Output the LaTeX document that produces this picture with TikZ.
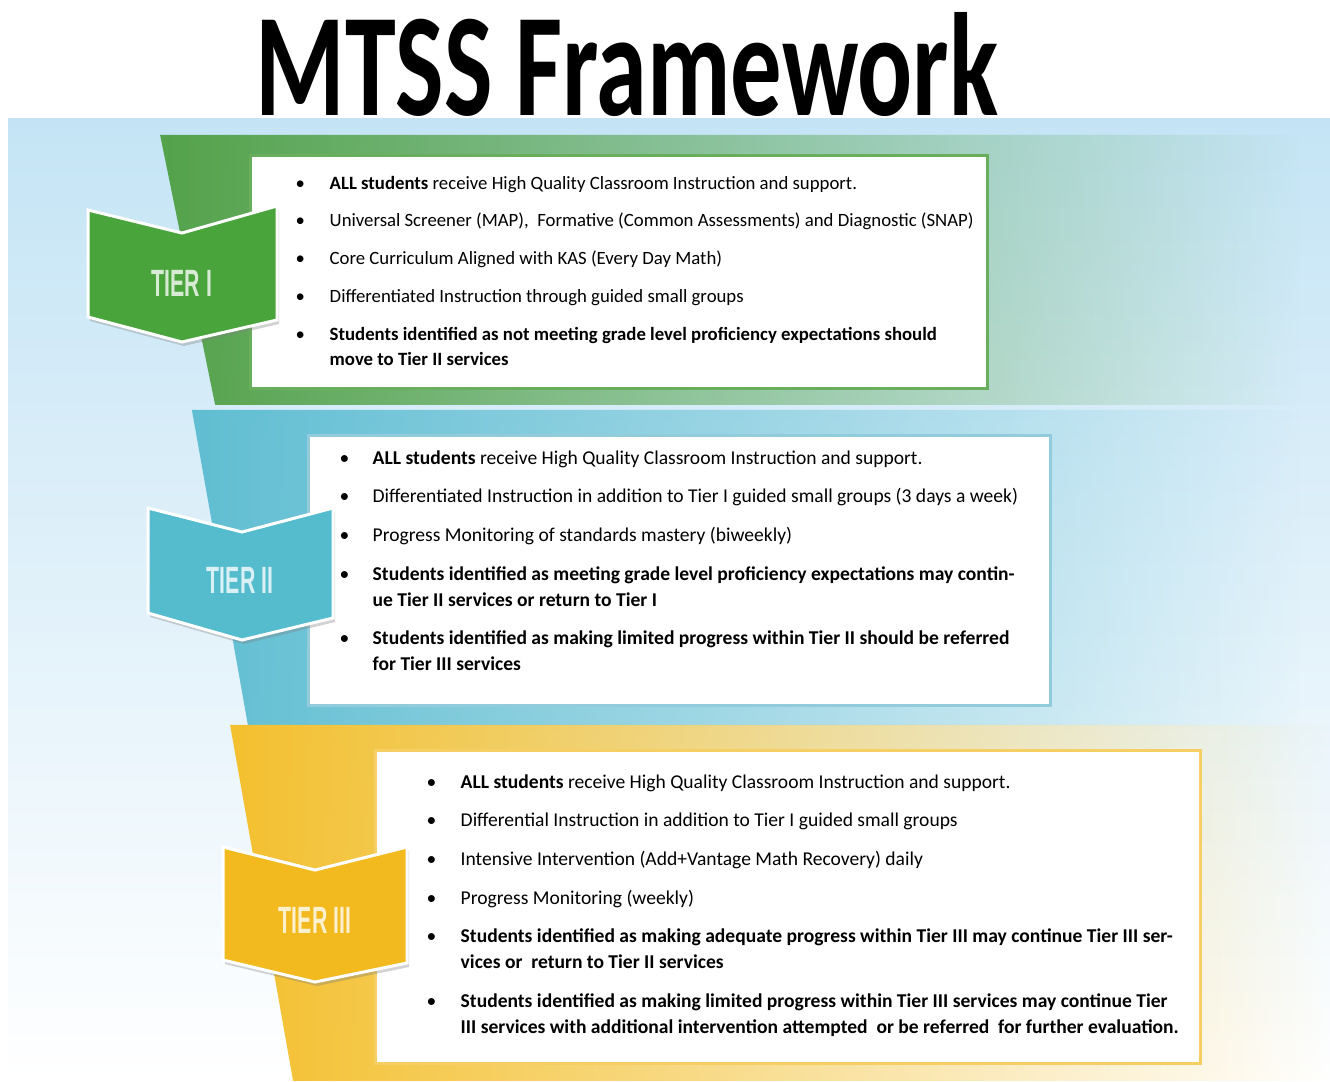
\documentclass[tikz,border=0pt]{standalone}
\usepackage{fontspec}
\setmainfont{Carlito}
\newfontfamily\tierfont{Liberation Sans}
\usetikzlibrary{positioning,shadows,fadings}

\definecolor{bgblue}{RGB}{196,228,245}
\definecolor{bandgreen}{RGB}{84,162,74}
\definecolor{chevgreen}{RGB}{74,164,60}
\definecolor{linegreen}{RGB}{104,174,92}
\definecolor{bandblue}{RGB}{96,190,210}
\definecolor{chevblue}{RGB}{84,188,204}
\definecolor{lineblue}{RGB}{146,204,220}
\definecolor{bandyellow}{RGB}{244,192,46}
\definecolor{chevyellow}{RGB}{242,186,30}
\definecolor{lineyellow}{RGB}{245,206,100}

\tikzfading[name=fade out east, left color=transparent!0, middle color=transparent!5, right color=transparent!100]

\newcommand{\nextitem}{\\[0.127cm]}

\tikzset{
  band/.style={path fading=fade out east},
  tierbox/.style={fill=white, line width=0.03cm},
  chevron/.style={draw=white, line width=0.03cm,
    drop shadow={shadow xshift=0.02cm, shadow yshift=-0.04cm, opacity=0.35}},
  tierlabel/.style={inner sep=0pt, font=\tierfont\bfseries\fontsize{0.38cm}{0.4cm}\selectfont},
  bullets/.style={anchor=base west, inner sep=0pt, align=left,
    font=\fontsize{0.1875cm}{0.252cm}\selectfont},
  wide bullets/.style={bullets, font=\fontsize{0.1955cm}{0.26cm}\selectfont},
}

\begin{document}
\begin{tikzpicture}[x=0.01cm, y=-0.01cm]
  \useasboundingbox (0,0) rectangle (1330,1081);
  % background
  \shade[top color=bgblue, middle color=bgblue!55!white, bottom color=white] (8,118) rectangle (1330,1081);

  % title
  \node[anchor=base west, inner sep=0pt] (title) at (255,115)
    {\resizebox{7.42cm}{1.03cm}{\bfseries MTSS Framework}};

  % coloured bands
  \fill[bandgreen, band] (160,135) -- (1300,135) -- (1300,405) -- (215,405) -- cycle;
  \fill[bandblue, band] (192,410) -- (1300,410) -- (1300,725) -- (248,725) -- cycle;
  \fill[bandyellow, band] (230,725) -- (1330,725) -- (1330,1081) -- (293,1081) -- cycle;

  % white boxes
  \draw[tierbox, draw=linegreen] (250,155) rectangle (987,388);
  \draw[tierbox, draw=lineblue] (308,435) rectangle (1050,705);
  \draw[tierbox, draw=lineyellow] (375,750) rectangle (1200,1063);

  % chevrons
  \fill[chevgreen, chevron] (88,210) -- (182,233) -- (277,206) -- (277,320) -- (182,342) -- (88,317) -- cycle;
  \node[tierlabel, text=chevgreen!22!white] (tier1) at (182,283) {\scalebox{0.56}[1]{TIER I}};
  \fill[chevblue, chevron] (148,508) -- (242,532) -- (333,508) -- (333,618) -- (242,640) -- (148,613) -- cycle;
  \node[tierlabel, text=chevblue!22!white] (tier2) at (240,580) {\scalebox{0.56}[1]{TIER II}};
  \fill[chevyellow, chevron] (223,847) -- (315,870) -- (407,847) -- (407,963) -- (315,982) -- (223,960) -- cycle;
  \node[tierlabel, text=chevyellow!22!white] (tier3) at (315,920) {\scalebox{0.56}[1]{TIER III}};

  % tier I
  \node[bullets] (list1) at (295,189) {\begin{tabular}[t]{@{}p{0.34cm}@{}l@{}}
    \textbullet & \textbf{ALL students} receive High Quality Classroom Instruction and support.\nextitem
    \textbullet & Universal Screener (MAP),\ \ Formative (Common Assessments) and Diagnostic (SNAP)\nextitem
    \textbullet & Core Curriculum Aligned with KAS (Every Day Math)\nextitem
    \textbullet & Differentiated Instruction through guided small groups\nextitem
    \textbullet & \textbf{Students identified as not meeting grade level proficiency expectations should}\\
    & \textbf{move to Tier II services}
  \end{tabular}};

  % tier II
  \node[wide bullets] (list2) at (339,464) {\begin{tabular}[t]{@{}p{0.33cm}@{}l@{}}
    \textbullet & \textbf{ALL students} receive High Quality Classroom Instruction and support.\nextitem
    \textbullet & Differentiated Instruction in addition to Tier I guided small groups (3 days a week)\nextitem
    \textbullet & Progress Monitoring of standards mastery (biweekly)\nextitem
    \textbullet & \textbf{Students identified as meeting grade level proficiency expectations may contin-}\\
    & \textbf{ue Tier II services or return to Tier I}\nextitem
    \textbullet & \textbf{Students identified as making limited progress within Tier II should be referred}\\
    & \textbf{for Tier III services}
  \end{tabular}};

  % tier III
  \node[wide bullets] (list3) at (426,788) {\begin{tabular}[t]{@{}p{0.34cm}@{}l@{}}
    \textbullet & \textbf{ALL students} receive High Quality Classroom Instruction and support.\nextitem
    \textbullet & Differential Instruction in addition to Tier I guided small groups\nextitem
    \textbullet & Intensive Intervention (Add+Vantage Math Recovery) daily\nextitem
    \textbullet & Progress Monitoring (weekly)\nextitem
    \textbullet & \textbf{Students identified as making adequate progress within Tier III may continue Tier III ser-}\\
    & \textbf{vices or\ \ return to Tier II services}\nextitem
    \textbullet & \textbf{Students identified as making limited progress within Tier III services may continue Tier}\\
    & \textbf{III services with additional intervention attempted\ \ or be referred\ \ for further evaluation.}
  \end{tabular}};
\end{tikzpicture}
\end{document}
